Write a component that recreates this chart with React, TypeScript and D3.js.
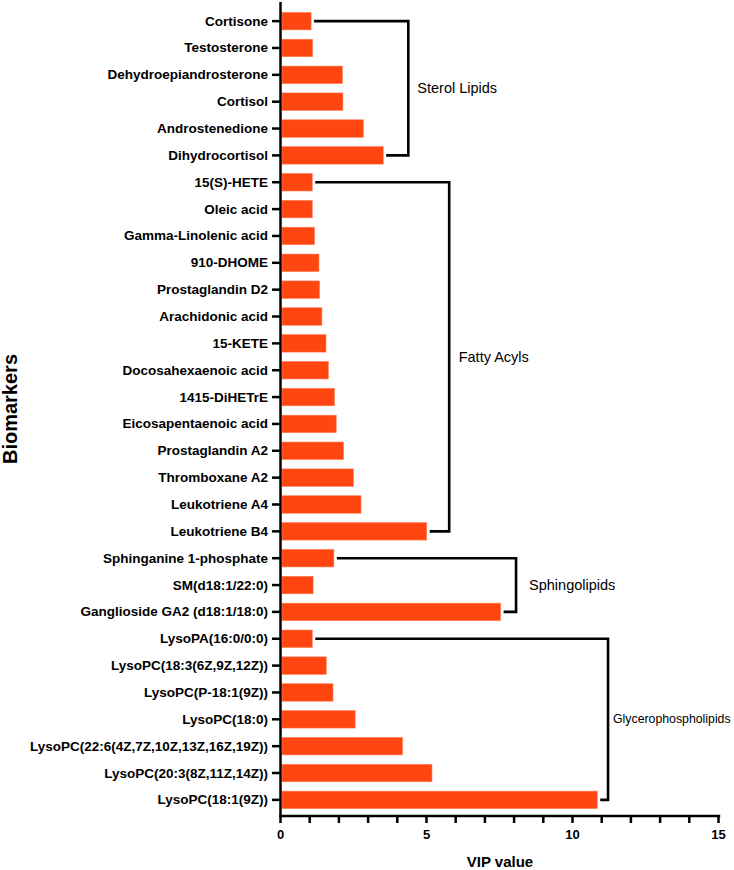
import React from "react";
import * as d3 from "d3";

const categories = [
  "Cortisone", "Testosterone", "Dehydroepiandrosterone", "Cortisol", "Androstenedione", "Dihydrocortisol",
  "15(S)-HETE", "Oleic acid", "Gamma-Linolenic acid", "910-DHOME", "Prostaglandin D2", "Arachidonic acid",
  "15-KETE", "Docosahexaenoic acid", "1415-DiHETrE", "Eicosapentaenoic acid", "Prostaglandin A2",
  "Thromboxane A2", "Leukotriene A4", "Leukotriene B4",
  "Sphinganine 1-phosphate", "SM(d18:1/22:0)", "Ganglioside GA2 (d18:1/18:0)",
  "LysoPA(16:0/0:0)", "LysoPC(18:3(6Z,9Z,12Z))", "LysoPC(P-18:1(9Z))", "LysoPC(18:0)",
  "LysoPC(22:6(4Z,7Z,10Z,13Z,16Z,19Z))", "LysoPC(20:3(8Z,11Z,14Z))", "LysoPC(18:1(9Z))",
];

const vipValues = [
  1.03, 1.08, 2.10, 2.12, 2.82, 3.50,
  1.07, 1.07, 1.15, 1.30, 1.32, 1.40, 1.54, 1.62, 1.83, 1.89, 2.14, 2.48, 2.74, 4.99,
  1.81, 1.10, 7.52,
  1.07, 1.55, 1.78, 2.54, 4.16, 5.17, 10.83,
];

const groupNames = ["Sterol Lipids", "Fatty Acyls", "Sphingolipids", "Glycerophospholipids"];
const groupFirst = [0, 6, 20, 23];
const groupLast = [5, 19, 22, 29];
const groupBracketX = [4.36, 5.76, 8.05, 11.2];

const xTickLabels = [0, 5, 10, 15];
const xMinorTicks = d3.range(0, 16, 1);

const W = 734;
const H = 870;
const FONT = "'Liberation Sans', Arial, Helvetica, sans-serif";
const BAR = "#ff4510";

export default function App() {
  const x = d3.scaleLinear().domain([0, 15]).range([281, 719]);
  const y = d3.scaleBand<string>().domain(categories).range([3, 818]).padding(0.35);
  const axisY = 816;
  const axisX = 280.5;
  const bw = y.bandwidth();
  const cy = (i: number) => (y(categories[i]) as number) + bw / 2;
  const labelSizes = [14.5, 14.5, 14.5, 12.3];
  const labelOffsets = [9, 9.5, 13, 5];

  return (
    <svg width={W} height={H} style={{ position: "absolute", left: 0, top: 0, background: "#fff" }}>
      {categories.map((c, i) => (
        <rect key={c} x={x(0) + 1} y={y(c)} width={x(vipValues[i]) - x(0) - 1} height={bw}
          fill={BAR} stroke="#ff7a50" strokeWidth={0.6} />
      ))}
      <line x1={axisX} x2={axisX} y1={2} y2={axisY + 1} stroke="#000" strokeWidth={2.5} />
      {categories.map((c, i) => (
        <g key={"t" + c}>
          <line x1={272} x2={axisX} y1={cy(i)} y2={cy(i)} stroke="#000" strokeWidth={2.5} />
          <text x={268} y={cy(i)} textAnchor="end" dominantBaseline="central"
            fontFamily={FONT} fontWeight="bold" fontSize={13.5} fill="#000">{c}</text>
        </g>
      ))}
      <line x1={axisX - 1.2} x2={x(15) + 1.2} y1={axisY} y2={axisY} stroke="#000" strokeWidth={2.5} />
      {xMinorTicks.map((t) => (
        <line key={"m" + t} x1={x(t) - 0.5} x2={x(t) - 0.5} y1={axisY} y2={axisY + 7} stroke="#000" strokeWidth={2.5} />
      ))}
      {xTickLabels.map((t) => (
        <text key={"l" + t} x={x(t) - 0.5} y={839} textAnchor="middle" fontFamily={FONT}
          fontWeight="bold" fontSize={13} fill="#000">{t}</text>
      ))}
      <text x={(x(0) + x(15)) / 2} y={867} textAnchor="middle" fontFamily={FONT} fontWeight="bold"
        fontSize={15} fill="#000">VIP value</text>
      <text transform={`translate(16.5,409) rotate(-90)`} textAnchor="middle" fontFamily={FONT}
        fontWeight="bold" fontSize={20} fill="#000">Biomarkers</text>
      {groupNames.map((g, k) => {
        const i0 = groupFirst[k];
        const i1 = groupLast[k];
        const bx = x(groupBracketX[k]);
        const y0 = cy(i0);
        const y1 = cy(i1);
        const path = `M${x(vipValues[i0]) + 3},${y0}H${bx}V${y1}H${x(vipValues[i1]) + 3}`;
        return (
          <g key={g}>
            <path d={path} fill="none" stroke="#000" strokeWidth={2.6} />
            <text x={bx + labelOffsets[k]} y={(y0 + y1) / 2} dominantBaseline="central"
              fontFamily={FONT} fontSize={labelSizes[k]} fill="#000">{g}</text>
          </g>
        );
      })}
    </svg>
  );
}
